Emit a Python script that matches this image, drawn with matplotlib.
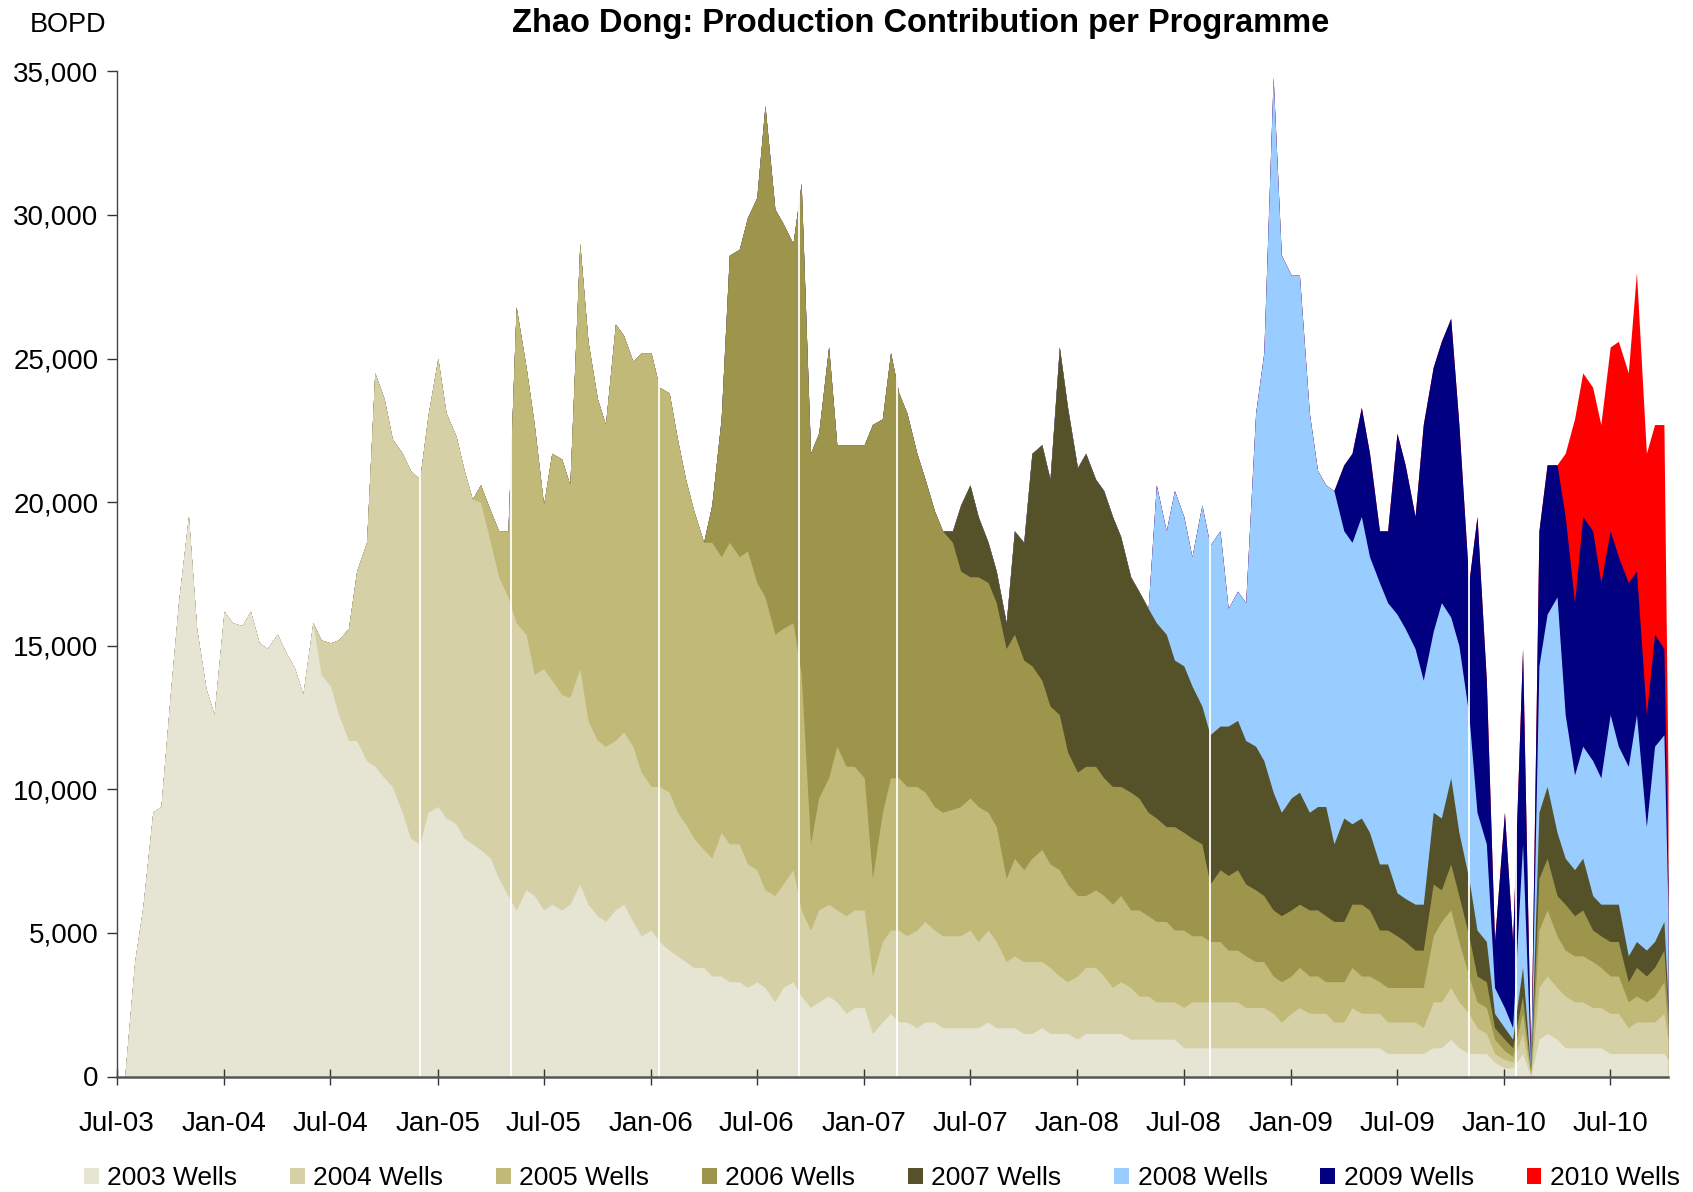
import numpy as np
import pandas as pd
import matplotlib
matplotlib.use("Agg")
import matplotlib.pyplot as plt
import matplotlib.dates as mdates
from matplotlib.ticker import FuncFormatter, MultipleLocator
from matplotlib.patches import Patch

plt.rcParams['font.family'] = ['Liberation Sans', 'DejaVu Sans']

# ---------------- data ----------------
programmes = ['2003 Wells', '2004 Wells', '2005 Wells', '2006 Wells',
              '2007 Wells', '2008 Wells', '2009 Wells', '2010 Wells']
colors = ['#E6E4D2', '#D6D0A6', '#C1B978', '#9E954C',
          '#555128', '#99CCFF', '#000080', '#FF0000']

# sample dates: 1st and 15th of every month Jul-2003 .. Oct-2010, plus last day
sample_dates = list(pd.date_range('2003-07-01', '2010-10-01', freq='SMS')) + [pd.Timestamp('2010-10-08')]

# index of the first sample at which each programme contributes
start_index = [0, 23, 41, 67, 94, 117, 138, 163]

# upper edge of each programme's band (cumulative, thousand BOPD), from its start sample
top_2003 = [0, 0, 4.0, 5.9, 9.2, 9.4, 13.3, 16.5, 19.5, 15.6, 13.5, 12.6, 16.2, 15.8, 15.7, 16.2,
            15.1, 14.9, 15.4, 14.8, 14.2, 13.3, 15.8, 14.0,
            13.6, 12.6, 11.7, 11.7, 11.0, 10.8, 10.4, 10.1, 9.2, 8.3, 8.1, 9.2, 9.4, 9.0, 8.8, 8.3, 8.1,
            7.9, 7.6, 6.9, 6.3, 5.8, 6.5, 6.3, 5.8, 6.0, 5.8, 6.0, 6.7, 6.0, 5.6, 5.4, 5.8, 6.0, 5.4,
            4.9, 5.1, 4.7, 4.4, 4.2, 4.0, 3.8,
            3.8, 3.5, 3.5, 3.3, 3.3, 3.1, 3.3, 3.1, 2.6, 3.1, 3.3, 2.8, 2.4, 2.6, 2.8, 2.6, 2.2, 2.4,
            2.4, 1.5, 1.9, 2.2, 1.9, 1.9, 1.7, 1.9, 1.9, 1.7,
            1.7, 1.7, 1.7, 1.7, 1.9, 1.7, 1.7, 1.7, 1.5, 1.5, 1.7, 1.5, 1.5, 1.5, 1.3, 1.5, 1.5, 1.5,
            1.5, 1.5, 1.3, 1.3, 1.3,
            1.3, 1.3, 1.3, 1.0, 1.0, 1.0, 1.0, 1.0, 1.0, 1.0, 1.0, 1.0, 1.0, 1.0, 1.0, 1.0, 1.0, 1.0,
            1.0, 1.0, 1.0,
            1.0, 1.0, 1.0, 1.0, 1.0, 0.8, 0.8, 0.8, 0.8, 0.8, 1.0, 1.0, 1.3, 1.0, 0.8, 0.8, 0.8, 0.5,
            0.3, 0.3, 0.8, 0.0, 1.3, 1.5, 1.3,
            1.0, 1.0, 1.0, 1.0, 1.0, 0.8, 0.8, 0.8, 0.8, 0.8, 0.8, 0.8, 0.6]

top_2004 = [15.2,
            15.1, 15.2, 15.6, 17.6, 18.6, 24.5, 23.6, 22.2, 21.7, 21.1, 20.8, 23.0, 25.0, 23.1, 22.3,
            21.1, 20.1,
            20.0, 18.6, 17.4, 16.7, 15.8, 15.4, 14.0, 14.2, 13.8, 13.3, 13.2, 14.2, 12.4, 11.7, 11.5,
            11.7, 12.0, 11.5, 10.6, 10.1, 10.1, 9.9, 9.2, 8.8, 8.3,
            7.9, 7.6, 8.5, 8.1, 8.1, 7.4, 7.2, 6.5, 6.3, 6.7, 7.2, 5.8, 5.1, 5.8, 6.0, 5.8, 5.6, 5.8,
            5.8, 3.5, 4.7, 5.1, 5.1, 4.9, 5.1, 5.4, 5.1, 4.9,
            4.9, 4.9, 5.1, 4.7, 5.1, 4.7, 4.0, 4.2, 4.0, 4.0, 4.0, 3.8, 3.5, 3.3, 3.5, 3.8, 3.8, 3.5,
            3.1, 3.3, 3.1, 2.8, 2.8,
            2.6, 2.6, 2.6, 2.4, 2.6, 2.6, 2.6, 2.6, 2.6, 2.6, 2.4, 2.4, 2.4, 2.2, 1.9, 2.2, 2.4, 2.2,
            2.2, 2.2, 1.9,
            1.9, 2.4, 2.2, 2.2, 2.2, 1.9, 1.9, 1.9, 1.9, 1.7, 2.6, 2.6, 3.1, 2.6, 2.2, 1.7, 1.5, 0.8,
            0.6, 0.5, 1.5, 0.05, 3.1, 3.5, 3.1,
            2.8, 2.6, 2.6, 2.4, 2.4, 2.2, 2.2, 1.7, 1.9, 1.9, 1.9, 2.2, 1.3]

top_2005 = [20.6, 19.7, 19.0, 19.0, 26.8, 24.7, 22.7, 19.9, 21.7, 21.5, 20.6, 29.0, 25.6, 23.6,
            22.7, 26.2, 25.8, 24.9, 25.2, 25.2, 24.0, 23.8, 22.2, 20.8, 19.7,
            18.6,
            18.6, 18.1, 18.6, 18.1, 18.3, 17.2, 16.7, 15.4, 15.6, 15.8, 14.0, 8.1, 9.7, 10.4, 11.5,
            10.8, 10.8, 10.4, 6.9, 9.2, 10.4, 10.4, 10.1, 10.1, 9.9, 9.4, 9.2,
            9.3, 9.4, 9.7, 9.4, 9.2, 8.7, 6.9, 7.6, 7.2, 7.6, 7.9, 7.4, 7.2, 6.7, 6.3, 6.3, 6.5, 6.3,
            6.0, 6.3, 5.8, 5.8, 5.6,
            5.4, 5.4, 5.1, 5.1, 4.9, 4.9, 4.7, 4.7, 4.4, 4.4, 4.2, 4.0, 4.0, 3.5, 3.3, 3.5, 3.8, 3.5,
            3.5, 3.3, 3.3,
            3.3, 3.8, 3.5, 3.5, 3.3, 3.1, 3.1, 3.1, 3.1, 3.1, 4.9, 5.4, 5.8, 4.7, 3.5, 2.6, 2.4, 1.3,
            0.9, 0.7, 2.2, 0.1, 5.1, 5.8, 4.9,
            4.4, 4.2, 4.2, 4.0, 3.8, 3.5, 3.5, 2.6, 2.8, 2.6, 2.8, 3.3, 1.7]

top_2006 = [19.9, 22.9, 28.6, 28.8, 29.9, 30.6, 33.8, 30.2, 29.7, 29.0, 31.1, 21.7, 22.4, 25.4,
            22.0, 22.0, 22.0, 22.0, 22.7, 22.9, 25.2, 23.8, 23.1, 21.7, 20.8, 19.7, 19.0,
            18.6, 17.6, 17.4, 17.4, 17.2, 16.5, 14.9, 15.4, 14.5, 14.3, 13.8, 12.9, 12.6, 11.3, 10.6,
            10.8, 10.8, 10.4, 10.1, 10.1, 9.9, 9.7, 9.2,
            9.0, 8.7, 8.7, 8.5, 8.3, 8.1, 6.7, 7.2, 7.0, 7.2, 6.7, 6.5, 6.3, 5.8, 5.6, 5.8, 6.0, 5.8,
            5.8, 5.6, 5.4,
            5.4, 6.0, 6.0, 5.8, 5.1, 5.1, 4.9, 4.7, 4.4, 4.4, 6.7, 6.5, 7.4, 6.3, 4.9, 3.5, 3.3, 1.7,
            1.3, 1.0, 2.8, 0.15, 6.9, 7.6, 6.3,
            6.0, 5.6, 5.8, 5.1, 4.9, 4.7, 4.7, 3.3, 3.8, 3.5, 3.8, 4.4, 2.2]

top_2007 = [19.0, 19.9, 20.6, 19.5, 18.6, 17.6, 15.8, 19.0, 18.6, 21.7, 22.0, 20.8, 25.4, 23.3,
            21.2, 21.7, 20.8, 20.4, 19.5, 18.8, 17.4, 16.9, 16.3,
            15.8, 15.4, 14.5, 14.3, 13.6, 12.9, 11.9, 12.2, 12.2, 12.4, 11.7, 11.5, 11.0, 9.9, 9.2,
            9.7, 9.9, 9.2, 9.4, 9.4, 8.1,
            9.0, 8.8, 9.0, 8.5, 7.4, 7.4, 6.4, 6.2, 6.0, 6.0, 9.2, 9.0, 10.4, 8.5, 6.9, 5.1, 4.7, 2.2,
            1.7, 1.3, 3.8, 0.2, 9.2, 10.1, 8.5,
            7.6, 7.2, 7.6, 6.3, 6.0, 6.0, 6.0, 4.2, 4.7, 4.4, 4.7, 5.4, 2.6]

top_2008 = [20.6, 19.0, 20.4, 19.5, 18.1, 19.9, 18.5, 19.0, 16.3, 16.9, 16.5, 23.1, 25.2, 34.8,
            28.6, 27.9, 27.9, 23.1, 21.1, 20.6, 20.4,
            19.0, 18.6, 19.5, 18.1, 17.2, 16.5, 16.1, 15.6, 14.9, 13.8, 15.5, 16.5, 16.0, 15.0, 12.6,
            9.2, 8.1, 3.1, 2.4, 1.7, 8.1, 0.3, 14.3, 16.1, 16.7,
            12.6, 10.5, 11.5, 11.0, 10.4, 12.6, 11.5, 10.8, 12.6, 8.7, 11.5, 11.9, 5.8]

top_2009 = [21.3, 21.7, 23.3, 21.7, 19.0, 19.0, 22.4, 21.3, 19.5, 22.7, 24.7, 25.6, 26.4, 22.7,
            17.2, 19.5, 13.8, 4.7, 9.2, 4.7, 14.9, 0.4, 19.0, 21.3, 21.3,
            19.5, 16.5, 19.5, 19.0, 17.2, 19.0, 18.1, 17.2, 17.6, 12.6, 15.4, 14.9, 6.9]

top_2010 = [21.7, 22.9, 24.5, 24.0, 22.7, 25.4, 25.6, 24.5, 28.0, 21.7, 22.7, 22.7, 10.4]

# days with a field-wide shut-in (white gaps in the chart)
outage_dates = ['2004-12-01', '2005-05-07', '2006-01-15', '2006-09-12', '2007-02-26',
                '2008-08-15', '2009-11-02', '2010-01-20']

tops = [top_2003, top_2004, top_2005, top_2006, top_2007, top_2008, top_2009, top_2010]

# ---------------- figure ----------------
W, H = 1693, 1192
fig = plt.figure(figsize=(W / 100, H / 100), dpi=100)
ax = fig.add_axes([116.6 / W, 1 - 1076.5 / H, (1668 - 116.6) / W, (1076.5 - 71.3) / H])

x = np.array(sample_dates)
n = len(x)
prev = np.zeros(n)
edges = []
for s, t in zip(start_index, tops):
    arr = np.concatenate([prev[:s], np.array(t, dtype=float) * 1000.0])
    arr = np.maximum(arr, prev)
    edges.append(arr)
    prev = arr

# draw from the top band down so that no seams appear
for arr, c in reversed(list(zip(edges, colors))):
    ax.fill_between(x, 0, arr, color=c, linewidth=0, zorder=1)

ax.vlines(pd.to_datetime(outage_dates), 0, 35000, colors='white', linewidth=1.3, zorder=2)

ax.set_xlim(pd.Timestamp('2003-07-01'), pd.Timestamp('2010-10-08'))
ax.set_ylim(0, 35000)
ax.yaxis.set_major_locator(MultipleLocator(5000))
ax.yaxis.set_major_formatter(FuncFormatter(lambda v, p: f"{v:,.0f}"))
ax.xaxis.set_major_locator(mdates.MonthLocator(bymonth=[1, 7]))
ax.xaxis.set_major_formatter(mdates.DateFormatter('%b-%y'))

for s in ['top', 'right']:
    ax.spines[s].set_visible(False)
ax.spines['left'].set_color('#444444')
ax.spines['left'].set_linewidth(1.0)
ax.spines['bottom'].set_color('#555555')
ax.spines['bottom'].set_linewidth(1.8)

ax.tick_params(axis='x', direction='inout', length=12, width=1, color='#333333',
               labelsize=20, pad=19)
ax.tick_params(axis='y', direction='out', length=7, width=1, color='#333333',
               labelsize=20, pad=6)

fig.text(921 / W, 1 - 23.8 / H, 'Zhao Dong: Production Contribution per Programme',
         ha='center', va='center', fontsize=23.5, fontweight='bold')
fig.text(30 / W, 1 - 25 / H, 'BOPD', ha='left', va='center', fontsize=19.5)

handles = [Patch(facecolor=c, edgecolor='none') for c in colors]
fig.legend(handles, programmes, loc='center', bbox_to_anchor=(882 / W, 1 - 1178 / H),
           ncol=8, frameon=False, fontsize=19, handlelength=0.56, handleheight=0.56,
           handletextpad=0.32, columnspacing=2.0, borderpad=0, borderaxespad=0)

fig.savefig('out.png', dpi=100)
